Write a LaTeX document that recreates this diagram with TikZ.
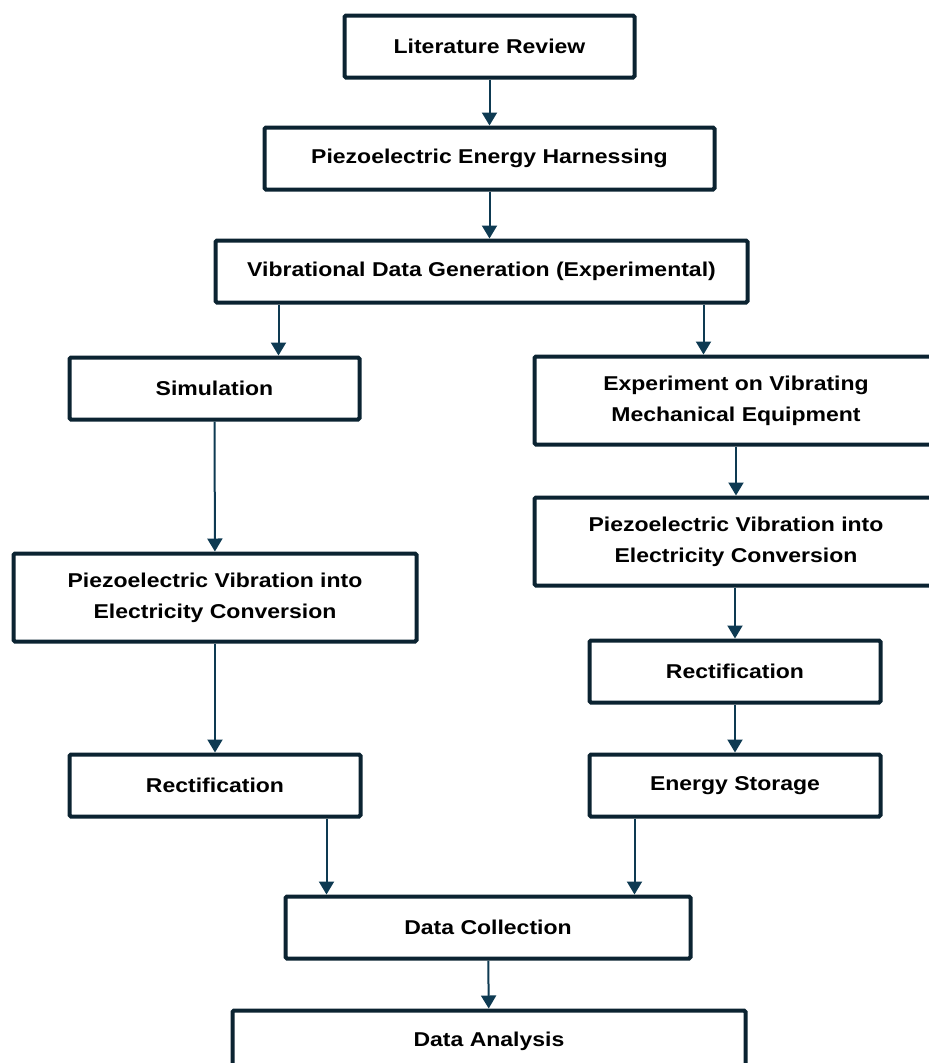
\documentclass[tikz,border=0pt]{standalone}
\usepackage{fontspec}
\usepackage{xcolor}
\usetikzlibrary{arrows.meta,positioning}
\newfontfamily\boxfont{Liberation Sans}[FakeStretch=1.15]
\definecolor{boxline}{HTML}{0B2331}
\definecolor{arrowline}{HTML}{0E3A52}

\begin{document}
\begin{tikzpicture}[x=1pt,y=1pt,>={Triangle[width=15pt,length=13pt]},
    stage node/.style={rectangle,draw=boxline,line width=4pt,rounded corners=1.5pt,fill=white,
      minimum height=62pt,align=center,font=\boxfont\fontsize{20pt}{31pt}\selectfont\bfseries},
    tall/.style={minimum height=88pt},
    flow/.style={->,color=arrowline,line width=2pt}]
              \useasboundingbox (0,0) rectangle (929,-1063);

              \node[stage node, minimum width=290pt] (lit) at (489.5,-46.5) {Literature Review};
              \node[stage node, minimum width=450pt, below=46pt of lit] (peh) {Piezoelectric Energy Harnessing};
              \node[stage node, minimum width=532pt, below=47pt of peh, xshift=-8pt] (vdg) {Vibrational Data Generation (Experimental)};

              % simulation branch
              \node[stage node, minimum width=290pt, below=51pt of vdg, xshift=-267pt] (sim) {Simulation};
              \node[stage node, tall, minimum width=403pt, below=130pt of sim, xshift=0.5pt] (pvl) {Piezoelectric Vibration into\\Electricity Conversion};
              \node[stage node, minimum width=291pt, below=109pt of pvl] (recl) {Rectification};

              % experiment branch
              \node[stage node, tall, minimum width=403pt, below=50pt of vdg, xshift=254.5pt] (exp) {Experiment on Vibrating\\Mechanical Equipment};
              \node[stage node, tall, minimum width=403pt, below=49pt of exp] (pvr) {Piezoelectric Vibration into\\Electricity Conversion};
              \node[stage node, minimum width=291pt, below=51pt of pvr, xshift=-1pt] (recr) {Rectification};
              \node[stage node, minimum width=291pt, below=48pt of recr] (sto) {Energy Storage};

              \node[stage node, minimum width=405pt, below=76pt of recl, xshift=273pt] (col) {Data Collection};
              \node[stage node, minimum width=513pt, below=48pt of col, xshift=1pt] (ana) {Data Analysis};

              \path[flow]
                (lit) edge (peh)
                (peh.south) edge (peh.south |- vdg.north)
                ([xshift=65pt]vdg.south west) edge ([xshift=65pt]vdg.south west |- sim.north)
                ([xshift=-46pt]vdg.south east) edge ([xshift=-46pt]vdg.south east |- exp.north)
                (sim) edge (pvl)
                (pvl) edge (recl)
                (exp) edge (pvr)
                (recr.north |- pvr.south) edge (recr.north)
                (recr) edge (sto)
                ([xshift=43pt]col.north west |- recl.south) edge ([xshift=43pt]col.north west)
                ([xshift=-58pt]col.north east |- sto.south) edge ([xshift=-58pt]col.north east)
                (col) edge (ana)
                ;
\end{tikzpicture}
\end{document}
